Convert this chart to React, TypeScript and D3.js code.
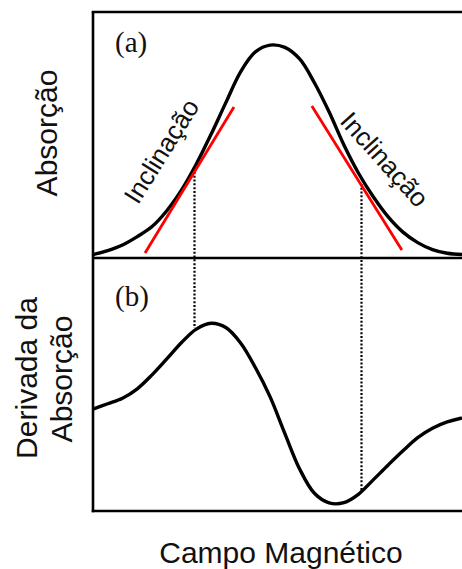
import * as d3 from 'd3';

// campo magnético (unidades arbitrárias)
const field = [0, 4, 8, 12, 16, 20, 24, 28, 32, 36, 40, 44, 48, 52, 56, 60, 64, 68, 72, 76, 80, 84, 88, 92, 96, 100];
// (a) absorção
const absorption = [1.6, 3.5, 6.1, 10.0, 14.7, 22.1, 31.8, 43.9, 57.8, 72.6, 87.0, 96.3, 99.5, 98.4, 93.0, 81.9, 68.2, 52.8, 39.5, 28.5, 19.2, 12.1, 7.2, 3.9, 2.2, 1.6];
// (b) derivada da absorção
const derivative = [-9.7, -7.6, -5.4, -1.7, 3.8, 10.1, 16.6, 21.9, 24.2, 22.5, 16.4, 6.7, -4.9, -19.4, -33.4, -43.0, -46.8, -46.7, -43.3, -37.6, -31.8, -26.2, -21.0, -17.3, -14.8, -13.2];

// retas tangentes (inclinação) [campo, absorção]
const slopeLeft: [number, number][] = [[14.1, 2.3], [38.2, 70.6]];
const slopeRight: [number, number][] = [[59.3, 71.0], [83.7, 3.7]];

// linhas pontilhadas: campo, absorção em (a), derivada em (b)
const dotField = [27.4, 72.6];
const dotAbs = [40.2, 34.6];
const dotDer = [22.3, -42.5];

const W = 462;
const H = 569;
const left = 93;
const right = 462;
const top = 12;
const mid = 258;
const bottom = 511;

const sans = 'Liberation Sans, Arial, Helvetica, sans-serif';
const serif = 'Liberation Serif, Times New Roman, serif';

export default function App() {
  const x = d3.scaleLinear().domain([0, 100]).range([left, right]);
  const yA = d3.scaleLinear().domain([0, 100]).range([mid, 44]);
  const yB = d3.scaleLinear().domain([-50, 50]).range([bottom, mid]);

  const lineA = d3
    .line<number>()
    .x((d, i) => x(field[i]))
    .y(d => yA(d))
    .curve(d3.curveCatmullRom);
  const lineB = d3
    .line<number>()
    .x((d, i) => x(field[i]))
    .y(d => yB(d))
    .curve(d3.curveCatmullRom);
  const tangent = d3
    .line<[number, number]>()
    .x(d => x(d[0]))
    .y(d => yA(d[1]));

  return (
    <svg width={W} height={H} style={{ position: 'absolute', left: 0, top: 0 }}>
      <rect width={W} height={H} fill="#fff" />

      {/* linhas pontilhadas */}
      {dotField.map((f, i) => (
        <line
          key={i}
          x1={Math.round(x(f)) + 0.5}
          x2={Math.round(x(f)) + 0.5}
          y1={yA(dotAbs[i])}
          y2={yB(dotDer[i])}
          stroke="#000"
          strokeWidth={2.2}
          strokeDasharray="2,1.8"
        />
      ))}

      {/* curvas */}
      <path d={lineA(absorption) ?? ''} fill="none" stroke="#000" strokeWidth={3.4} strokeLinejoin="round" />
      <path d={lineB(derivative) ?? ''} fill="none" stroke="#000" strokeWidth={3.4} strokeLinejoin="round" />

      {/* tangentes */}
      <path d={tangent(slopeLeft) ?? ''} stroke="#f00" strokeWidth={2.8} fill="none" />
      <path d={tangent(slopeRight) ?? ''} stroke="#f00" strokeWidth={2.8} fill="none" />

      {/* moldura */}
      <g stroke="#000" strokeWidth={2.6} fill="none">
        <line x1={left} x2={left} y1={top} y2={bottom + 1.3} />
        <line x1={left - 1.3} x2={right} y1={top} y2={top} />
        <line x1={left} x2={right} y1={mid} y2={mid} />
        <line x1={left - 1.3} x2={right} y1={bottom} y2={bottom} />
      </g>

      {/* rótulos dos painéis */}
      <text x={115} y={52} fontFamily={serif} fontSize={29} fill="#111">(a)</text>
      <text x={115} y={306} fontFamily={serif} fontSize={29} fill="#111">(b)</text>

      {/* inclinação */}
      <text
        transform={`translate(${x(20.6)},${yA(47.7)}) rotate(-58)`}
        textAnchor="middle"
        fontFamily={sans}
        fontSize={26}
        fill="#111"
      >
        Inclinação
      </text>
      <text
        transform={`translate(${x(77.2)},${yA(43.2)}) rotate(48)`}
        textAnchor="middle"
        fontFamily={sans}
        fontSize={26}
        fill="#111"
      >
        Inclinação
      </text>

      {/* eixos */}
      <text
        transform="translate(56.5,133) rotate(-90)"
        textAnchor="middle"
        fontFamily={sans}
        fontSize={30}
        fill="#111"
      >
        Absorção
      </text>
      <text
        transform="translate(36.5,378) rotate(-90)"
        textAnchor="middle"
        fontFamily={sans}
        fontSize={30}
        fill="#111"
      >
        Derivada da
      </text>
      <text
        transform="translate(72,379) rotate(-90)"
        textAnchor="middle"
        fontFamily={sans}
        fontSize={30}
        fill="#111"
      >
        Absorção
      </text>
      <text x={281} y={563} textAnchor="middle" fontFamily={sans} fontSize={30} fill="#111">
        Campo Magnético
      </text>
    </svg>
  );
}
